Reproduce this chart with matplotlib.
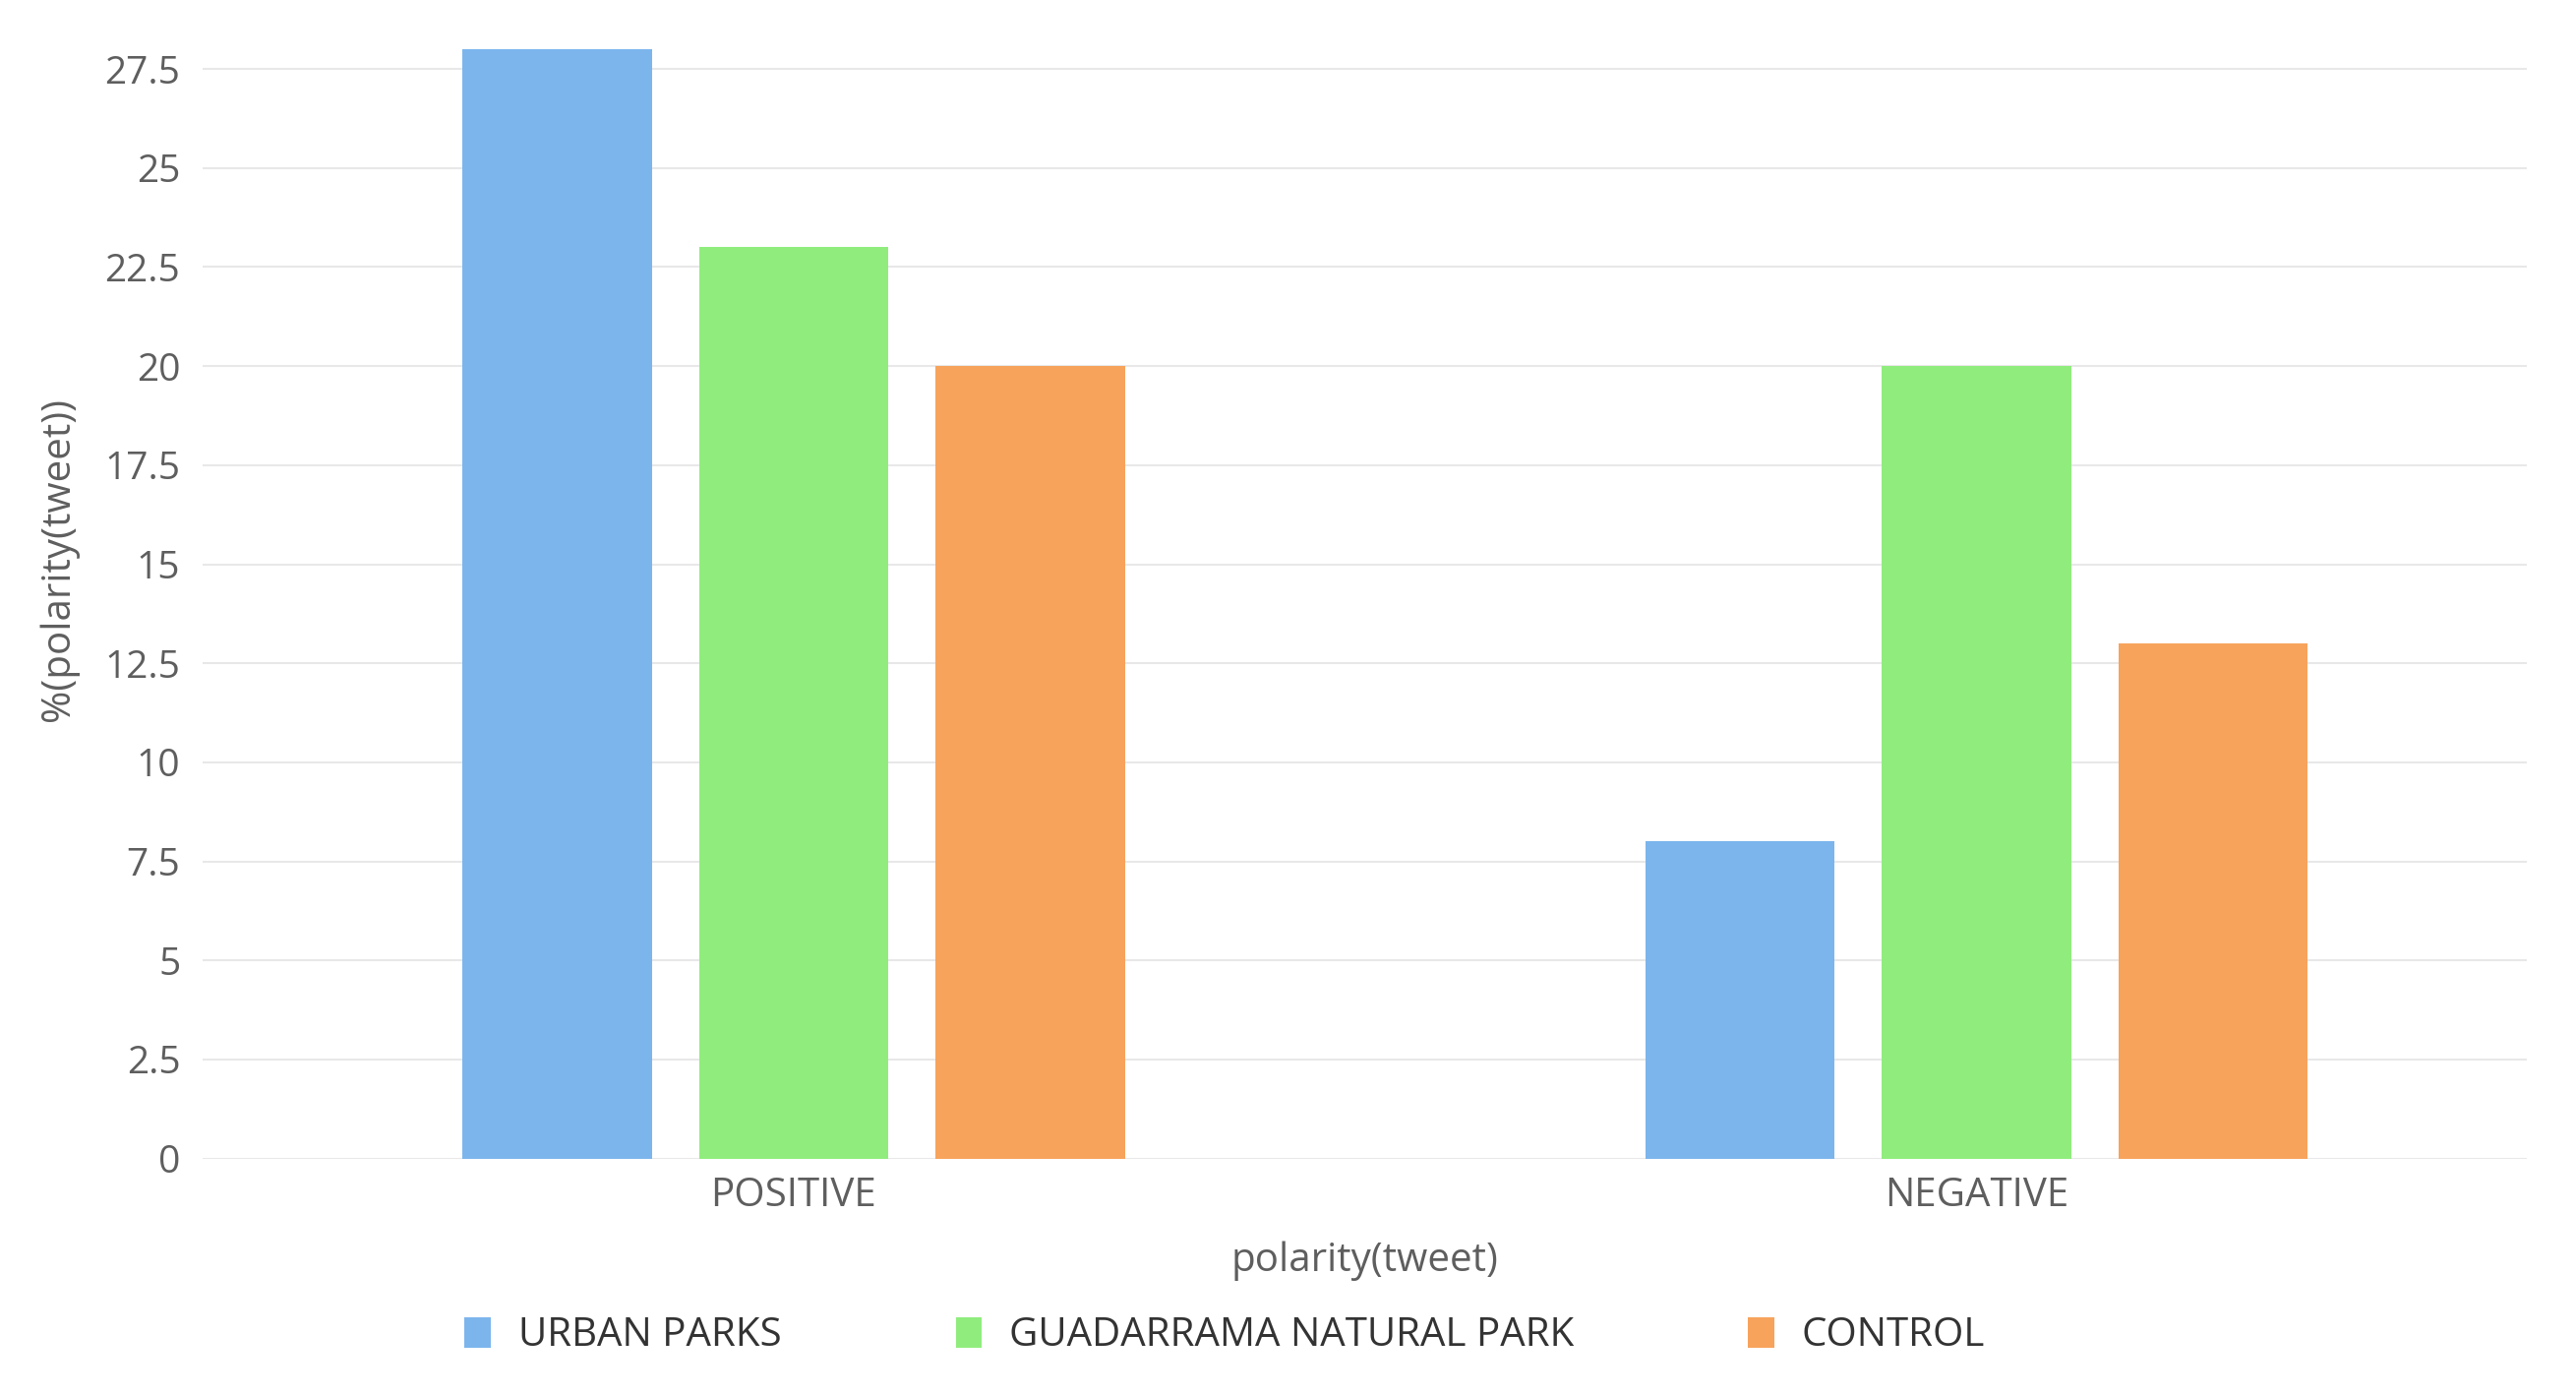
import numpy as np
import matplotlib.pyplot as plt
from matplotlib.patches import Patch

plt.rcParams['font.family'] = ['Open Sans', 'DejaVu Sans']

# данные
categories = ['POSITIVE', 'NEGATIVE']
series_names = ['URBAN PARKS', 'GUADARRAMA NATURAL PARK', 'CONTROL']
urban = [28, 8]
guadarrama = [23, 20]
control = [20, 13]
yticks = [0, 2.5, 5, 7.5, 10, 12.5, 15, 17.5, 20, 22.5, 25, 27.5]
ytick_labels = ['0', '2.5', '5', '7.5', '10', '12.5', '15', '17.5', '20', '22.5', '25', '27.5']

colors = ['#7cb5ec', '#90ed7d', '#f7a35c']

fig = plt.figure(figsize=(26.19, 14.19), dpi=100)
ax = fig.add_axes([0.0785, 0.1701, 0.9024, 0.7947])

x = np.arange(len(categories))
for i, vals in enumerate([urban, guadarrama, control]):
    ax.bar(x + (i - 1) * 0.2, vals, width=0.16, color=colors[i], zorder=3)

ax.set_xlim(-0.5, 1.465)
ax.set_ylim(0, 28)
ax.set_yticks(yticks)
ax.set_yticklabels(ytick_labels)
ax.set_xticks(x)
ax.set_xticklabels(categories)

ax.grid(axis='y', color='#e8e8e8', linewidth=1.5, zorder=0)
for s in ax.spines.values():
    s.set_visible(False)
ax.tick_params(axis='y', length=0, pad=16, labelsize=28, labelcolor='#5e5e5e')
ax.tick_params(axis='x', length=0, pad=13, labelsize=29, labelcolor='#5e5e5e')

ax.set_xlabel('polarity(tweet)', fontsize=29, color='#5e5e5e', labelpad=18)
ax.set_ylabel('%(polarity(tweet))', fontsize=29, color='#5e5e5e')
ax.yaxis.set_label_coords(-0.053, 0.54)

handles = [Patch(facecolor=c, edgecolor='none') for c in colors]
fig.legend(handles, series_names, loc='center', bbox_to_anchor=(0.4755, 0.043),
           ncol=3, frameon=False, fontsize=29, labelcolor='#333333',
           handlelength=0.65, handleheight=0.8, handletextpad=0.7, columnspacing=4.4)

plt.savefig('out.png', dpi=100)
